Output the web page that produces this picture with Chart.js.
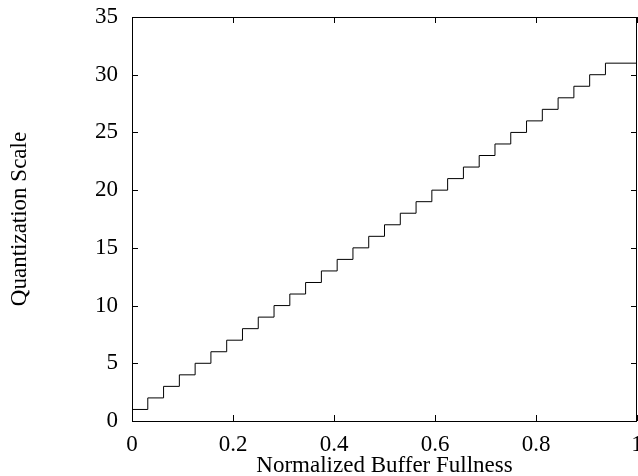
<!DOCTYPE html>
<html>
<head>
<meta charset="utf-8">
<script src="https://cdn.jsdelivr.net/npm/chart.js@4/dist/chart.umd.min.js"></script>
<style>
html, body { margin: 0; padding: 0; background: #fff; }
#quantChart { display: block; }
</style>
</head>
<body>
<canvas id="quantChart" width="638" height="476"></canvas>
<script>
// step breakpoints (buffer fullness) and the quantization scale from that point on
var fullness = [0, 0.03125, 0.0625, 0.09375, 0.125, 0.15625, 0.1875, 0.21875,
    0.25, 0.28125, 0.3125, 0.34375, 0.375, 0.40625, 0.4375, 0.46875,
    0.5, 0.53125, 0.5625, 0.59375, 0.625, 0.65625, 0.6875, 0.71875,
    0.75, 0.78125, 0.8125, 0.84375, 0.875, 0.90625, 0.9375, 1];
var qScale = [1, 2, 3, 4, 5, 6, 7, 8, 9, 10, 11, 12, 13, 14, 15, 16,
    17, 18, 19, 20, 21, 22, 23, 24, 25, 26, 27, 28, 29, 30, 31, 31];
var xTicks = [0, 0.2, 0.4, 0.6, 0.8, 1];
var yTicks = [0, 5, 10, 15, 20, 25, 30, 35];

var points = [];
for (var i = 0; i < fullness.length; i++) {
    points.push({x: fullness[i], y: qScale[i]});
}

var serif = "'Liberation Serif', 'Times New Roman', serif";

// gnuplot style frame with inward ticks on all four sides
var frameTicks = {
    id: "frameTicks",
    afterDatasetsDraw: function(chart) {
        var ctx = chart.ctx;
        var a = chart.chartArea;
        var xs = chart.scales.x, ys = chart.scales.y;
        var len = 6;
        ctx.save();
        ctx.strokeStyle = "#000";
        ctx.lineWidth = 1;
        ctx.beginPath();
        xTicks.forEach(function(v) {
            var px = Math.round(xs.getPixelForValue(v)) + 0.5;
            ctx.moveTo(px, a.bottom); ctx.lineTo(px, a.bottom - len);
            ctx.moveTo(px, a.top); ctx.lineTo(px, a.top + len);
        });
        yTicks.forEach(function(v) {
            var py = Math.round(ys.getPixelForValue(v)) + 0.5;
            ctx.moveTo(a.left, py); ctx.lineTo(a.left + len, py);
            ctx.moveTo(a.right, py); ctx.lineTo(a.right - len, py);
        });
        ctx.stroke();
        ctx.strokeRect(Math.round(a.left) + 0.5, Math.round(a.top) + 0.5,
            Math.round(a.right - a.left) - 1, Math.round(a.bottom - a.top));
        ctx.restore();
    }
};

new Chart("quantChart", {
    type: "line",
    data: {
        datasets: [{
            data: points,
            stepped: "before",
            borderColor: "#000",
            borderWidth: 1,
            pointRadius: 0,
            fill: false
        }]
    },
    options: {
        responsive: false,
        animation: false,
        layout: {padding: {top: 17, right: 1, left: 0, bottom: 0}},
        plugins: {legend: {display: false}, tooltip: {enabled: false}},
        scales: {
            x: {
                type: "linear",
                min: 0, max: 1,
                afterFit: function(s) {
                    s.height = 55;
                    s.paddingLeft = 0;
                    s.paddingRight = 0;
                },
                afterBuildTicks: function(s) { s.ticks = xTicks.map(function(v) { return {value: v}; }); },
                grid: {display: false, drawTicks: false},
                border: {display: false},
                ticks: {
                    padding: 10,
                    color: "#000",
                    font: {family: serif, size: 23},
                    maxRotation: 0,
                    callback: function(v) { return String(v); }
                },
                title: {
                    display: true,
                    text: "Normalized Buffer Fullness",
                    color: "#000",
                    font: {family: serif, size: 23},
                    padding: {top: 0, bottom: -4}
                }
            },
            y: {
                type: "linear",
                min: 0, max: 35,
                afterFit: function(s) {
                    s.width = 132;
                    s.paddingTop = 0;
                    s.paddingBottom = 0;
                },
                afterBuildTicks: function(s) { s.ticks = yTicks.map(function(v) { return {value: v}; }); },
                grid: {display: false, drawTicks: false},
                border: {display: false},
                ticks: {
                    padding: 14,
                    color: "#000",
                    font: {family: serif, size: 23}
                },
                title: {
                    display: true,
                    text: "Quantization Scale",
                    color: "#000",
                    font: {family: serif, size: 23},
                    padding: {top: 6, bottom: 0}
                }
            }
        }
    },
    plugins: [frameTicks]
});
</script>
</body>
</html>
